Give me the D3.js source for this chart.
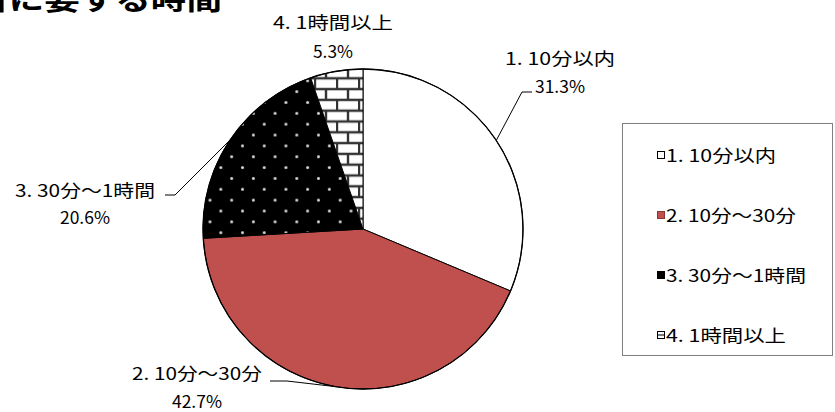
<!DOCTYPE html>
<html lang="ja">
<head>
<meta charset="UTF-8">
<title>到着に要する時間</title>
<script src="https://d3js.org/d3.v7.min.js"></script>
<style>
  body { margin: 0; background: #fff; }
  text { font-family: "Noto Sans CJK JP", sans-serif; fill: #000; }
</style>
</head>
<body>
<svg></svg>
<script>
  // data
  const categories = ["1. 10分以内", "2. 10分～30分", "3. 30分～1時間", "4. 1時間以上"];
  const values = [31.3, 42.7, 20.6, 5.3];
  const title = "到着に要する時間";

  const width = 835, height = 412;
  const cx = 363, cy = 229, r = 160;

  const svg = d3.select("svg").attr("width", width).attr("height", height);

  // patterns
  const defs = svg.append("defs");
  const dots = defs.append("pattern")
      .attr("id", "dots")
      .attr("patternUnits", "userSpaceOnUse")
      .attr("x", -136.7).attr("y", -77.7)
      .attr("width", 21.7).attr("height", 21.7);
  dots.append("rect").attr("width", 21.7).attr("height", 21.7).attr("fill", "#000");
  [[5.4, 5.4], [16.25, 16.25]].forEach(p => {
      dots.append("circle").attr("cx", p[0]).attr("cy", p[1]).attr("r", 1.5).attr("fill", "#d8d8d8");
  });

  const brick = defs.append("pattern")
      .attr("id", "brick")
      .attr("patternUnits", "userSpaceOnUse")
      .attr("x", -5).attr("y", -150.7)
      .attr("width", 22).attr("height", 21.6);
  brick.append("rect").attr("width", 22).attr("height", 21.6).attr("fill", "#fff");
  brick.append("path")
      .attr("d", "M0,0H22M0,10.8H22M0,21.6H22M1,0V10.8M12,10.8V21.6")
      .attr("stroke", "#333").attr("stroke-width", 2.4).attr("fill", "none");

  const legBrick = defs.append("pattern")
      .attr("id", "legBrick")
      .attr("patternContentUnits", "objectBoundingBox")
      .attr("width", 1).attr("height", 1);
  legBrick.append("rect").attr("width", 1).attr("height", 1).attr("fill", "#fff");
  legBrick.append("rect").attr("y", 0.42).attr("width", 1).attr("height", 0.16).attr("fill", "#000");

  const fill = d3.scaleOrdinal()
      .domain(categories)
      .range(["#ffffff", "#C0504D", "url(#dots)", "url(#brick)"]);
  const legFill = d3.scaleOrdinal()
      .domain(categories)
      .range(["#ffffff", "#C0504D", "#000000", "url(#legBrick)"]);

  const data = categories.map((c, i) => ({ name: c, value: values[i] }));
  const pie = d3.pie().sort(null).value(d => d.value);
  const arc = d3.arc().innerRadius(0).outerRadius(r);
  const edge = d3.arc().innerRadius(r).outerRadius(r);
  const arcs = pie(data);

  // the source uses a gothic font with half-width latin, wide glyphs:
  // force each string to that width (10px half-width, 20px full-width)
  const textWidth = s => Array.from(s).reduce((w, ch) => w + (ch.charCodeAt(0) < 0x80 ? 10 : 20), 0);
  function wideText(sel, x, y, str, anchor) {
      return sel.append("text")
          .attr("x", x).attr("y", y)
          .attr("text-anchor", anchor)
          .attr("textLength", textWidth(str))
          .attr("lengthAdjust", "spacingAndGlyphs")
          .text(str);
  }

  // title (cut off at the top left, as in the source)
  svg.append("text")
      .attr("transform", `translate(222,10) scale(1.27,1)`)
      .attr("text-anchor", "end")
      .attr("font-size", 28)
      .attr("font-weight", "bold")
      .text(title);

  // pie
  const g = svg.append("g").attr("transform", `translate(${cx},${cy})`);
  g.selectAll("path.slice")
      .data(arcs)
      .enter()
      .append("path")
        .attr("class", "slice")
        .attr("d", arc)
        .attr("fill", d => fill(d.data.name))
        .attr("stroke", "#000")
        .attr("stroke-width", 1);
  g.append("circle").attr("r", r).attr("fill", "none").attr("stroke", "#000").attr("stroke-width", 1.3);

  // data labels: text centre, baselines and leader elbow (page coords)
  const labelLayout = [
      { x: 560, y1: 65, y2: 93, elbow: [522, 92], tail: [532, 92] },
      { x: 197, y1: 380, y2: 408, elbow: [287, 381], tail: [270, 381] },
      { x: 85, y1: 197, y2: 224, elbow: [175, 195], tail: [165, 195] },
      { x: 333, y1: 29, y2: 58, elbow: null }
  ];

  const pct = d3.format(".1f");
  const labels = svg.append("g").attr("font-size", 17);
  arcs.forEach((a, i) => {
      const L = labelLayout[i];
      if (L.elbow) {
          const c = edge.centroid(a);
          const pts = [[cx + c[0], cy + c[1]], L.elbow, L.tail];
          labels.append("path")
              .attr("d", d3.line()(pts))
              .attr("fill", "none")
              .attr("stroke", "#000")
              .attr("stroke-width", 1);
      }
      wideText(labels, L.x, L.y1, a.data.name, "middle");
      wideText(labels, L.x, L.y2, pct(a.data.value) + "%", "middle");
  });

  // legend
  const legend = svg.append("g").attr("font-size", 17);
  legend.append("rect")
      .attr("x", 622.5).attr("y", 123.5)
      .attr("width", 210).attr("height", 232)
      .attr("fill", "#fff")
      .attr("stroke", "#7f7f7f").attr("stroke-width", 1);

  const ly = d3.scalePoint().domain(categories).range([155, 335]);
  const items = legend.selectAll("g.item")
      .data(categories)
      .enter()
      .append("g")
        .attr("class", "item")
        .attr("transform", d => `translate(657,${ly(d)})`);
  items.append("rect")
      .attr("x", 0.5).attr("y", -3.5)
      .attr("width", 7).attr("height", 7)
      .attr("fill", d => legFill(d))
      .attr("stroke", d => d === categories[1] ? "#8c3836" : "#000")
      .attr("stroke-width", 1);
  items.each(function (d) {
      wideText(d3.select(this), 9, 7, d, "start");
  });
</script>
</body>
</html>
